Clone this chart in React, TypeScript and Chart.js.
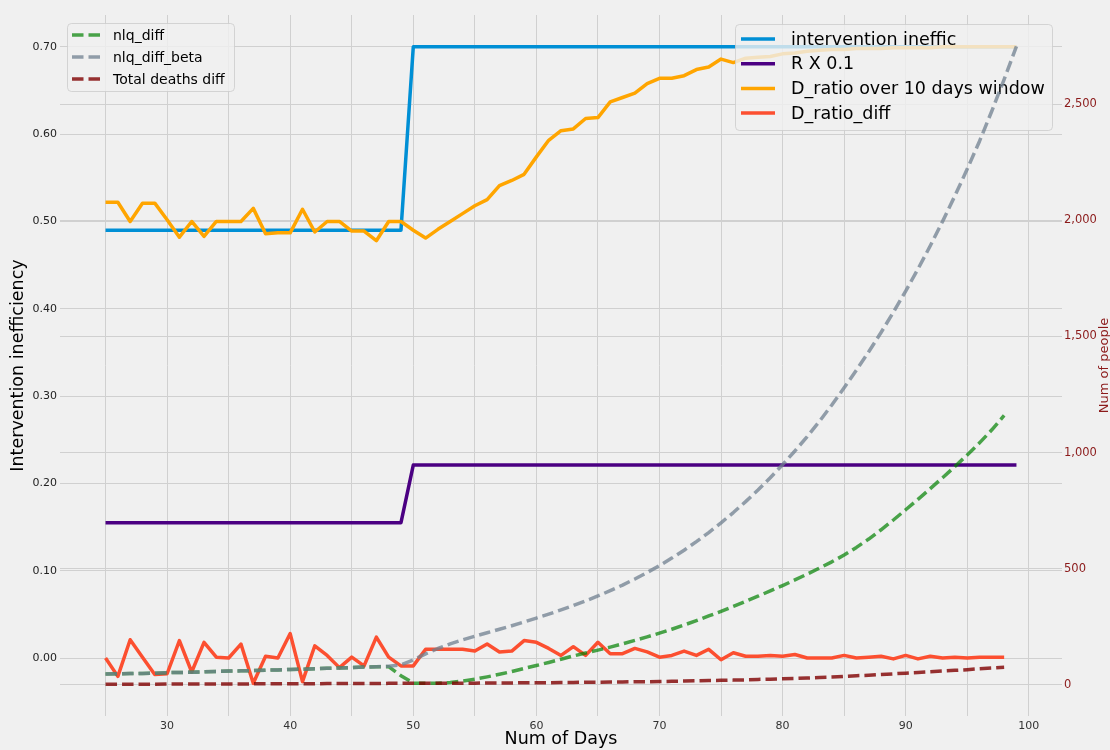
import React, { useEffect, useRef } from "react";
import { Chart, registerables } from "chart.js";

Chart.register(...registerables);

// ---------- data ----------
const days = [
  25, 26, 27, 28, 29, 30, 31, 32, 33, 34, 35, 36, 37, 38, 39, 40, 41, 42, 43, 44, 45, 46, 47, 48, 49,
  50, 51, 52, 53, 54, 55, 56, 57, 58, 59, 60, 61, 62, 63, 64, 65, 66, 67, 68, 69, 70, 71, 72, 73, 74,
  75, 76, 77, 78, 79, 80, 81, 82, 83, 84, 85, 86, 87, 88, 89, 90, 91, 92, 93, 94, 95, 96, 97, 98, 99,
];

// left axis series (days 25..99)
const interventionIneffic = [
  0.49, 0.49, 0.49, 0.49, 0.49, 0.49, 0.49, 0.49, 0.49, 0.49, 0.49, 0.49, 0.49, 0.49, 0.49, 0.49, 0.49, 0.49, 0.49, 0.49, 0.49, 0.49, 0.49, 0.49, 0.49,
  0.7, 0.7, 0.7, 0.7, 0.7, 0.7, 0.7, 0.7, 0.7, 0.7, 0.7, 0.7, 0.7, 0.7, 0.7, 0.7, 0.7, 0.7, 0.7, 0.7, 0.7, 0.7, 0.7, 0.7, 0.7,
  0.7, 0.7, 0.7, 0.7, 0.7, 0.7, 0.7, 0.7, 0.7, 0.7, 0.7, 0.7, 0.7, 0.7, 0.7, 0.7, 0.7, 0.7, 0.7, 0.7, 0.7, 0.7, 0.7, 0.7, 0.7,
];
const rTimes01 = [
  0.155, 0.155, 0.155, 0.155, 0.155, 0.155, 0.155, 0.155, 0.155, 0.155, 0.155, 0.155, 0.155, 0.155, 0.155, 0.155, 0.155, 0.155, 0.155, 0.155, 0.155, 0.155, 0.155, 0.155, 0.155,
  0.221, 0.221, 0.221, 0.221, 0.221, 0.221, 0.221, 0.221, 0.221, 0.221, 0.221, 0.221, 0.221, 0.221, 0.221, 0.221, 0.221, 0.221, 0.221, 0.221, 0.221, 0.221, 0.221, 0.221, 0.221,
  0.221, 0.221, 0.221, 0.221, 0.221, 0.221, 0.221, 0.221, 0.221, 0.221, 0.221, 0.221, 0.221, 0.221, 0.221, 0.221, 0.221, 0.221, 0.221, 0.221, 0.221, 0.221, 0.221, 0.221, 0.221,
];
const dRatioWindow = [
  0.522, 0.522, 0.5, 0.521, 0.521, 0.502, 0.482, 0.5, 0.483, 0.5, 0.5, 0.5, 0.515, 0.486, 0.487, 0.487, 0.514, 0.488, 0.5, 0.5, 0.489, 0.489, 0.478, 0.5, 0.5,
  0.49, 0.481, 0.491, 0.5, 0.509, 0.518, 0.525, 0.541, 0.547, 0.554, 0.574, 0.593, 0.604, 0.606, 0.618, 0.619, 0.637, 0.642, 0.647, 0.658, 0.664, 0.664, 0.667, 0.674, 0.677,
  0.686, 0.682, 0.687, 0.688, 0.689, 0.692, 0.693, 0.695, 0.696, 0.697, 0.697, 0.698, 0.698, 0.698, 0.699, 0.699, 0.699, 0.699, 0.7, 0.7, 0.7, 0.7, 0.7, 0.7, 0.7,
];
// days 25..98
const dRatioDiff = [
  0.0, -0.021, 0.021, 0.001, -0.019, -0.018, 0.02, -0.016, 0.018, 0.001, 0.0, 0.016, -0.029, 0.002, 0.0, 0.028, -0.027, 0.014, 0.003, -0.011, 0.001, -0.009, 0.024, 0.001, -0.009,
  -0.009, 0.01, 0.01, 0.01, 0.01, 0.008, 0.016, 0.007, 0.008, 0.02, 0.018, 0.011, 0.003, 0.013, 0.003, 0.018, 0.005, 0.005, 0.011, 0.007, 0.001, 0.003, 0.008, 0.003, 0.01,
  -0.002, 0.006, 0.002, 0.002, 0.003, 0.002, 0.004, 0.0, 0.0, 0.0, 0.003, 0.0, 0.001, 0.002, -0.001, 0.003, -0.001, 0.002, 0.0, 0.001, 0.0, 0.001, 0.001, 0.001,
];

// right axis series
// days 25..98
const nlqDiff = [
  47, 48, 49, 50, 51, 53, 54, 55, 57, 58, 60, 61, 62, 64, 65, 67, 68, 70, 72, 73, 75, 77, 79, 79, 40,
  8, 7, 8, 11, 17, 25, 35, 46, 58, 71, 84, 97, 111, 125, 138, 150, 163, 177, 192, 207, 223, 240, 258, 277, 297,
  317, 338, 360, 382, 405, 428, 452, 477, 503, 530, 559, 592, 628, 668, 710, 754, 799, 845, 892, 940, 990, 1042, 1098, 1160,
];
// days 25..99
const nlqDiffBeta = [
  47, 48, 49, 50, 51, 53, 54, 55, 57, 58, 60, 61, 62, 64, 65, 67, 68, 70, 72, 73, 75, 77, 79, 81, 86,
  108, 134, 157, 177, 194, 210, 225, 240, 255, 271, 288, 305, 323, 342, 362, 383, 406, 430, 456, 484, 514, 546, 580, 617, 656,
  698, 742, 789, 839, 892, 948, 1007, 1069, 1135, 1205, 1279, 1355, 1434, 1517, 1604, 1695, 1790, 1890, 1995, 2105, 2220, 2340, 2470, 2606, 2748,
];
// days 25..98
const totalDeathsDiff = [
  3, 3, 3, 3, 3, 4, 4, 4, 4, 4, 4, 4, 5, 5, 5, 5, 5, 5, 6, 6, 6, 6, 6, 7, 7,
  7, 7, 8, 8, 8, 8, 9, 9, 9, 10, 10, 10, 11, 11, 12, 12, 13, 13, 14, 14, 15, 16, 17, 18, 19,
  20, 21, 22, 24, 25, 27, 28, 30, 32, 34, 37, 40, 42, 45, 48, 51, 54, 57, 60, 63, 66, 70, 73, 76,
];

const xTickValues = [25, 30, 35, 40, 45, 50, 55, 60, 65, 70, 75, 80, 85, 90, 95, 100];
const leftTickValues = [0, 0.1, 0.2, 0.3, 0.4, 0.5, 0.6, 0.7];
const rightTickValues = [0, 500, 1000, 1500, 2000, 2500];

const leftLegend = [
  { label: "nlq_diff", color: "rgba(0,128,0,0.7)" },
  { label: "nlq_diff_beta", color: "rgba(112,128,144,0.75)" },
  { label: "Total deaths diff", color: "rgba(128,0,0,0.8)" },
];
const rightLegend = [
  { label: "intervention ineffic", color: "#008fd5" },
  { label: "R X 0.1", color: "#4b0082" },
  { label: "D_ratio over 10 days window", color: "#ffa500" },
  { label: "D_ratio_diff", color: "#fc4f30" },
];

const FONT = "'DejaVu Sans', 'Liberation Sans', sans-serif";
const DASH = [11.5, 5];
const LW = 3.5;

function pts(values: number[]) {
  return values.map((v, i) => ({ x: days[i], y: v }));
}

function roundRect(ctx: CanvasRenderingContext2D, x: number, y: number, w: number, h: number, r: number) {
  ctx.beginPath();
  ctx.moveTo(x + r, y);
  ctx.lineTo(x + w - r, y);
  ctx.quadraticCurveTo(x + w, y, x + w, y + r);
  ctx.lineTo(x + w, y + h - r);
  ctx.quadraticCurveTo(x + w, y + h, x + w - r, y + h);
  ctx.lineTo(x + r, y + h);
  ctx.quadraticCurveTo(x, y + h, x, y + h - r);
  ctx.lineTo(x, y + r);
  ctx.quadraticCurveTo(x, y, x + r, y);
  ctx.closePath();
}

function drawLegendBox(
  ctx: CanvasRenderingContext2D,
  box: { x: number; y: number; w: number; h: number },
  items: { label: string; color: string }[],
  opts: { y0: number; dy: number; lx0: number; lx1: number; tx: number; size: number; dashed: boolean }
) {
  ctx.save();
  roundRect(ctx, box.x, box.y, box.w, box.h, 4);
  ctx.fillStyle = "rgba(240,240,240,0.8)";
  ctx.fill();
  ctx.strokeStyle = "rgba(204,204,204,0.8)";
  ctx.lineWidth = 1;
  ctx.stroke();
  items.forEach((it, i) => {
    const y = opts.y0 + i * opts.dy;
    ctx.beginPath();
    ctx.setLineDash(opts.dashed ? DASH : []);
    ctx.lineCap = "butt";
    ctx.strokeStyle = it.color;
    ctx.lineWidth = LW;
    ctx.moveTo(opts.lx0, y);
    ctx.lineTo(opts.lx1, y);
    ctx.stroke();
    ctx.setLineDash([]);
    ctx.fillStyle = "#000";
    ctx.font = `${opts.size}px ${FONT}`;
    ctx.textAlign = "left";
    ctx.textBaseline = "middle";
    ctx.fillText(it.label, opts.tx, y + 1);
  });
  ctx.restore();
}

const overlayPlugin = {
  id: "overlay",
  beforeDraw(chart: any) {
    const ctx = chart.ctx;
    ctx.save();
    ctx.fillStyle = "#f0f0f0";
    ctx.fillRect(0, 0, chart.width, chart.height);
    ctx.restore();
  },
  beforeDatasetDraw(chart: any, args: any) {
    if (args.index === 0) {
      drawLegendBox(
        chart.ctx,
        { x: 735.5, y: 24.5, w: 317, h: 106 },
        rightLegend,
        { y0: 39, dy: 24.7, lx0: 741, lx1: 775, tx: 791, size: 17.5, dashed: false }
      );
    }
  },
  afterDatasetsDraw(chart: any) {
    const ctx = chart.ctx;
    drawLegendBox(
      ctx,
      { x: 67.5, y: 23.5, w: 167, h: 68 },
      leftLegend,
      { y0: 35, dy: 22, lx0: 72, lx1: 102, tx: 113, size: 14, dashed: true }
    );
    ctx.save();
    ctx.translate(1105, 365.5);
    ctx.rotate(-Math.PI / 2);
    ctx.font = `13px ${FONT}`;
    ctx.fillStyle = "#8b1a1a";
    ctx.textAlign = "center";
    ctx.textBaseline = "middle";
    ctx.fillText("Num of people", 0, 0);
    ctx.restore();
  },
};

export default function App() {
  const ref = useRef<HTMLCanvasElement | null>(null);

  useEffect(() => {
    document.body.style.margin = "0";
    document.body.style.background = "#f0f0f0";
    const canvas = ref.current;
    if (!canvas) return;
    Chart.defaults.font.family = FONT;

    const dashed = (label: string, values: number[], color: string, order: number) => ({
      label,
      data: pts(values),
      yAxisID: "y2",
      borderColor: color,
      borderWidth: LW,
      borderDash: DASH,
      borderCapStyle: "butt",
      borderJoinStyle: "round",
      pointRadius: 0,
      fill: false,
      tension: 0,
      order,
    });
    const solid = (label: string, values: number[], color: string, order: number) => ({
      label,
      data: pts(values),
      yAxisID: "y",
      borderColor: color,
      borderWidth: LW,
      borderCapStyle: "butt",
      borderJoinStyle: "round",
      pointRadius: 0,
      fill: false,
      tension: 0,
      order,
    });

    const gridColor = "#d0d0d0";

    const chart = new Chart(canvas, {
      type: "line",
      data: {
        datasets: [
          dashed("nlq_diff", nlqDiff, leftLegend[0].color, 3),
          dashed("nlq_diff_beta", nlqDiffBeta, leftLegend[1].color, 2),
          dashed("Total deaths diff", totalDeathsDiff, leftLegend[2].color, 1),
          solid("intervention ineffic", interventionIneffic, rightLegend[0].color, 7),
          solid("R X 0.1", rTimes01, rightLegend[1].color, 6),
          solid("D_ratio over 10 days window", dRatioWindow, rightLegend[2].color, 5),
          solid("D_ratio_diff", dRatioDiff, rightLegend[3].color, 4),
        ] as any,
      },
      options: {
        animation: false,
        responsive: false,
        maintainAspectRatio: false,
        layout: { padding: { top: 15, left: 0, right: 0, bottom: 0 } },
        plugins: { legend: { display: false }, tooltip: { enabled: false } },
        scales: {
          x: {
            type: "linear",
            min: 21.3,
            max: 102.7,
            afterBuildTicks: (s: any) => {
              s.ticks = xTickValues.map((v) => ({ value: v }));
            },
            afterFit: (s: any) => {
              s.height = 34;
            },
            border: { display: false },
            grid: { color: gridColor, lineWidth: 1, drawTicks: false },
            ticks: {
              autoSkip: false,
              maxRotation: 0,
              padding: 4,
              color: "#333",
              font: { size: 11 },
              callback: (v: any) => (Number(v) % 10 === 0 ? String(v) : ""),
            },
            title: {
              display: true,
              text: "Num of Days",
              color: "#000",
              font: { size: 17.5 },
              padding: { top: 0, bottom: 0 },
            },
          },
          y: {
            position: "left",
            min: -0.0664,
            max: 0.7365,
            afterBuildTicks: (s: any) => {
              s.ticks = leftTickValues.map((v) => ({ value: v }));
            },
            afterFit: (s: any) => {
              s.width = 60;
            },
            border: { display: false },
            grid: { color: gridColor, lineWidth: 1, drawTicks: false },
            ticks: {
              padding: 3,
              color: "#222",
              font: { size: 11 },
              callback: (v: any) => Number(v).toFixed(2),
            },
            title: {
              display: true,
              text: "Intervention inefficiency",
              color: "#000",
              font: { size: 17.5 },
              padding: { top: 8, bottom: 0 },
            },
          },
          y2: {
            position: "right",
            min: -133.4,
            max: 2883,
            afterBuildTicks: (s: any) => {
              s.ticks = rightTickValues.map((v) => ({ value: v }));
            },
            afterFit: (s: any) => {
              s.width = 48;
            },
            border: { display: false },
            grid: { color: gridColor, lineWidth: 1, drawTicks: false },
            ticks: {
              padding: 2,
              color: "#8b1a1a",
              font: { size: 11.5 },
              callback: (v: any) => Number(v).toLocaleString("en-US"),
            },
          },
        },
      } as any,
      plugins: [overlayPlugin as any],
    });
    return () => chart.destroy();
  }, []);

  return (
    <canvas
      ref={ref}
      width={1110}
      height={750}
      style={{ display: "block", width: 1110, height: 750 }}
    />
  );
}
